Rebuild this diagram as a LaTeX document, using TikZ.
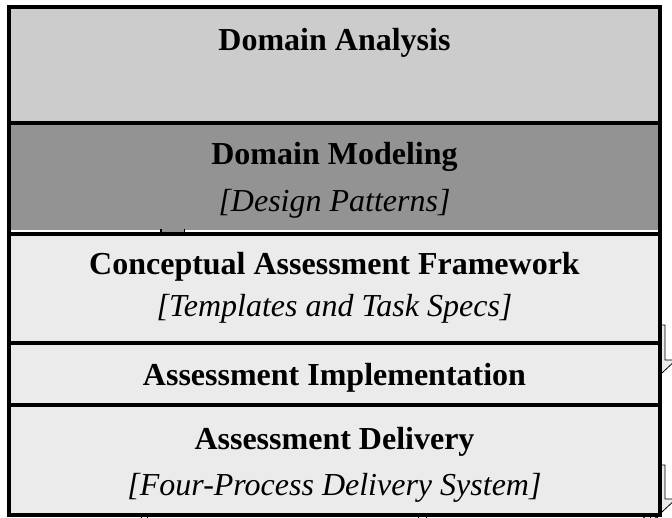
\documentclass[tikz,border=0pt]{standalone}
\usepackage{fontspec}
\setmainfont{Liberation Serif}
\definecolor{topgray}{HTML}{CCCCCC}
\definecolor{midgray}{HTML}{939393}
\definecolor{lightgray}{HTML}{EBEBEB}
\begin{document}
\begin{tikzpicture}[x=1pt,y=-1pt,
  title/.style={font=\fontsize{32}{38}\selectfont\bfseries, anchor=base, inner sep=0pt},
  sub/.style={font=\fontsize{32}{38}\selectfont\itshape, anchor=base, inner sep=0pt},
  frame/.style={line width=4pt},
  blockarrow/.style={draw=black, line width=0.8pt, fill=lightgray},
  tick/.style={line width=1pt}]
\useasboundingbox (0,0) rectangle (672,518);
\fill[white] (0,0) rectangle (672,518);
\begin{scope}
\clip (0,0) rectangle (672,518);
% block arrows behind the stack
\draw[blockarrow] (635,325) -- (665,325) -- (665,360) -- (676,360) -- (650,384) -- (624,360) -- (635,360) -- cycle;
\draw[blockarrow] (635,465) -- (665,465) -- (665,499) -- (676,499) -- (650,523) -- (624,499) -- (635,499) -- cycle;
% layer fills
\fill[topgray] (9,7) rectangle (660,123);
\fill[midgray] (9,123) rectangle (660,230.3);
\fill[lightgray] (9,234) rectangle (660,515);
% small fragment under the Domain Modeling layer
\fill[midgray] (160,229) rectangle (185,232);
\draw[line width=1.5pt] (161,229.5) -- (161,232) (184.5,229.5) -- (184.5,232);
% dividers
\draw[frame] (9,123) -- (660,123);
\draw[frame] (9,234) -- (660,234);
\draw[frame] (9,343) -- (660,343);
\draw[frame] (9,405) -- (660,405);
% outer frame
\draw[frame] (9,7) rectangle (660,515);
% small ticks below the frame
\draw[tick] (141,516) -- (141,518) (147,516) -- (147,518)
            (418,516) -- (418,518) (426,516) -- (426,518)
            (650,516) -- (650,518) (657,516) -- (657,518);
\end{scope}
% texts
\node[title] (da)  at (334.5,51)  {Domain Analysis};
\node[title] (dm)  at (334.5,165) {Domain Modeling};
\node[sub]   (dp)  at (334.5,212) {[Design Patterns]};
\node[title] (caf) at (334.5,275) {Conceptual Assessment Framework};
\node[sub]   (tts) at (334.5,317) {[Templates and Task Specs]};
\node[title] (ai)  at (334.5,385) {Assessment Implementation};
\node[title] (ad)  at (334.5,449) {Assessment Delivery};
\node[sub]   (fp)  at (334.5,495) {[Four-Process Delivery System]};
\end{tikzpicture}
\end{document}
